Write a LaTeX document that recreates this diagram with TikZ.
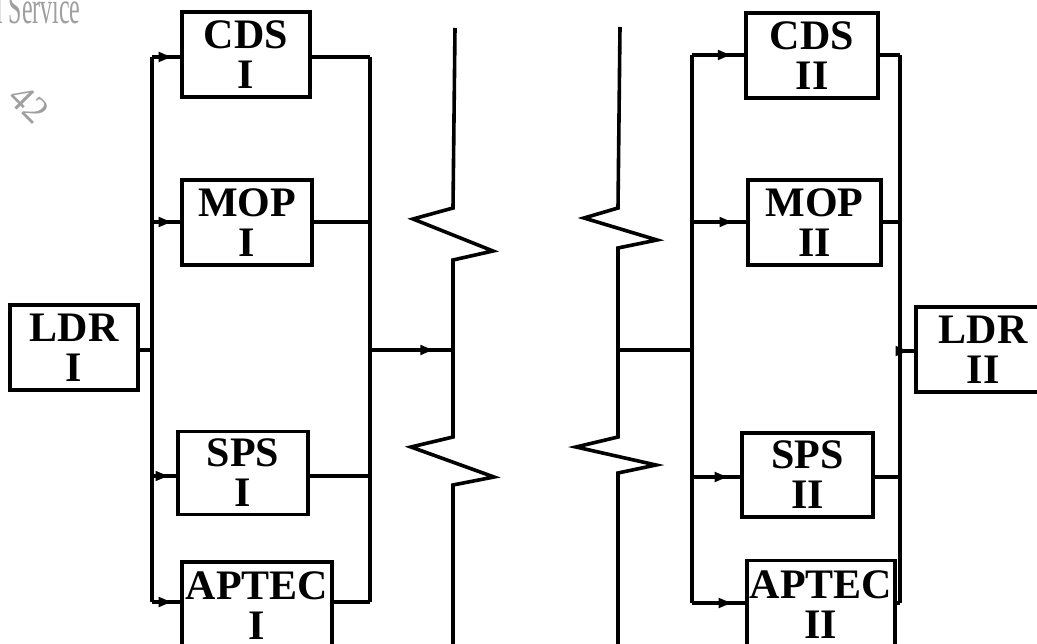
\documentclass[tikz,border=0pt]{standalone}
\usepackage{fontspec}
\setmainfont{Liberation Serif}
\usetikzlibrary{arrows.meta,decorations.markings}
\tikzset{
  blk/.style={draw, line width=3.2pt, inner sep=0pt, align=center,
    font=\fontsize{42}{40}\selectfont\bfseries},
  wire/.style={line width=3.2pt},
  arr/.style={wire, postaction={decorate}, decoration={markings,
    mark=at position 0.8 with {\arrow{Latex[length=16pt,width=11pt]}}}},
  brk/.style={line width=3.6pt, line join=miter},
  wm/.style={text=gray!75, inner sep=0pt}
}
\begin{document}
\begin{tikzpicture}[x=1pt,y=-1pt]
\clip (0,0) rectangle (1037,644);
\fill[white] (0,0) rectangle (1037,644);
% watermark fragments
\node[wm, anchor=base west, font=\fontsize{46}{46}\selectfont, xscale=0.52] (wmA) at (-4,24) {l Service};
\node[wm, rotate=-45, font=\fontsize{38}{38}\selectfont] (wmB) at (29,104) {42};
% left boxes
\node[blk, minimum width=128pt, minimum height=85pt] (ldr1) at (74,347.5) {LDR\\I};
\node[blk, minimum width=128pt, minimum height=85pt] (cds1) at (246,54.5) {CDS\\I};
\node[blk, minimum width=130pt, minimum height=85pt] (mop1) at (247,222.5) {MOP\\I};
\node[blk, minimum width=130pt, minimum height=83pt] (sps1) at (243,473) {SPS\\I};
\node[blk, minimum width=150pt, minimum height=88pt] (apt1) at (257,606) {APTEC\\I};
% right boxes
\node[blk, minimum width=132pt, minimum height=85pt] (cds2) at (812,55.5) {CDS\\II};
\node[blk, minimum width=133pt, minimum height=85pt] (mop2) at (814.5,222.5) {MOP\\II};
\node[blk, minimum width=131pt, minimum height=84pt] (sps2) at (807.5,475) {SPS\\II};
\node[blk, minimum width=148pt, minimum height=88pt] (apt2) at (821,604.5) {APTEC\\II};
\node[blk, minimum width=134pt, minimum height=85pt] (ldr2) at (983,349.5) {LDR\\II};
% bus coordinates (left)
\coordinate (lbA) at (152,57);
\coordinate (lbB) at (152,222);
\coordinate (lbC) at (152,476);
\coordinate (lbD) at (152,602);
\coordinate (lbM) at (152,350);
\coordinate (rbA) at (370,57);
\coordinate (rbB) at (370,222);
\coordinate (rbC) at (370,476);
\coordinate (rbD) at (370,602);
\coordinate (rbM) at (370,350);
\coordinate (brkL) at (453,350);
% bus coordinates (right)
\coordinate (brkR) at (618,350);
\coordinate (lcA) at (692,55);
\coordinate (lcB) at (692,222);
\coordinate (lcC) at (692,477);
\coordinate (lcD) at (692,603);
\coordinate (lcM) at (692,350);
\coordinate (rcA) at (900,55);
\coordinate (rcB) at (900,222);
\coordinate (rcC) at (900,477);
\coordinate (rcD) at (900,603);
\coordinate (rcM) at (900,351);
% left side wiring
\draw[wire] (ldr1.east |- lbM) -- (lbM);
\draw[wire] (lbA) -- (lbD);
\draw[arr] (lbA) -- (cds1.west |- lbA);
\draw[arr] (lbB) -- (mop1.west |- lbB);
\draw[arr] (lbC) -- (sps1.west |- lbC);
\draw[arr] (lbD) -- (apt1.west |- lbD);
\draw[wire] (cds1.east |- rbA) -- (rbA);
\draw[wire] (mop1.east |- rbB) -- (rbB);
\draw[wire] (sps1.east |- rbC) -- (rbC);
\draw[wire] (apt1.east |- rbD) -- (rbD);
\draw[wire] (rbA) -- (rbD);
\draw[arr] (rbM) -- (brkL);
% break lines
\draw[brk] (455,28) -- (453,208) -- (413,219) -- (493,251) -- (453,260) -- (453,437)
  -- (411,447) -- (494,477) -- (453,485) -- (453,648);
\draw[brk] (620,27) -- (618,208) -- (584,218) -- (657,240) -- (618,248) -- (618,437)
  -- (576,447) -- (656,465) -- (618,473) -- (618,648);
% right side wiring
\draw[wire] (brkR) -- (lcM);
\draw[wire] (lcA) -- (lcD);
\draw[arr] (lcA) -- (cds2.west |- lcA);
\draw[arr] (lcB) -- (mop2.west |- lcB);
\draw[arr] (lcC) -- (sps2.west |- lcC);
\draw[arr] (lcD) -- (apt2.west |- lcD);
\draw[wire] (cds2.east |- rcA) -- (rcA);
\draw[wire] (mop2.east |- rcB) -- (rcB);
\draw[wire] (sps2.east |- rcC) -- (rcC);
\draw[wire] (apt2.east |- rcD) -- (rcD);
\draw[wire] (rcA) -- (rcD);
\draw[arr] (rcM) -- (ldr2.west |- rcM);
\end{tikzpicture}
\end{document}
